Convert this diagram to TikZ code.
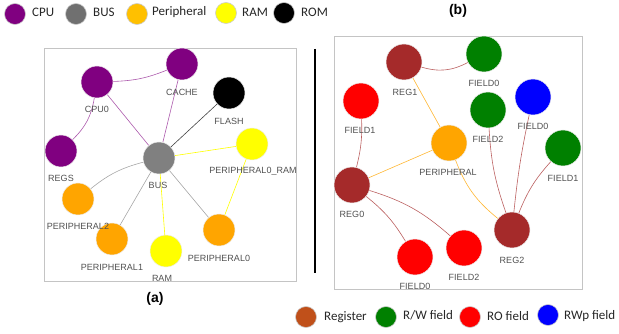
\documentclass[tikz,border=0pt]{standalone}
\usepackage{fontspec}
\setmainfont{Liberation Sans}
\newfontfamily\legfont{Carlito}
\usetikzlibrary{backgrounds}

\definecolor{cpuc}{HTML}{800080}
\definecolor{busc}{HTML}{808080}
\definecolor{perc}{HTML}{FFA500}
\definecolor{ramc}{HTML}{FFFF00}
\definecolor{romc}{HTML}{000000}
\definecolor{regc}{HTML}{A52A2A}
\definecolor{rwc}{HTML}{008000}
\definecolor{roc}{HTML}{FF0000}
\definecolor{rwpc}{HTML}{0000FF}
\definecolor{legbus}{HTML}{707070}
\definecolor{legper}{HTML}{FFC000}
\definecolor{legreg}{HTML}{C0501A}
\definecolor{labc}{HTML}{505050}
\definecolor{legtext}{HTML}{262626}
\definecolor{framec}{HTML}{C4C4C4}

\tikzset{
  gnode/.style={circle, inner sep=0pt, draw=white!85!gray, line width=0.5pt},
  small/.style={gnode, minimum size=32pt},
  big/.style={gnode, minimum size=36pt},
  lab/.style={font=\fontsize{9}{9}\selectfont, text=labc, inner sep=0pt},
  legdot/.style={circle, inner sep=0pt, minimum size=21pt, draw=gray!40, line width=0.6pt},
  legtxt/.style={font=\legfont\fontsize{13}{13}\selectfont, text=legtext, inner sep=0pt, anchor=west},
  tag/.style={font=\bfseries\fontsize{14}{14}\selectfont, inner sep=0pt},
  frame/.style={draw=framec, line width=0.8pt},
  edge/.style={line width=0.6pt},
  ecpu/.style={edge, draw=cpuc!65!white},
  ebus/.style={edge, draw=busc!70!white},
  eram/.style={edge, draw=ramc},
  erom/.style={edge, draw=black!75},
  ereg/.style={edge, draw=regc!75!white},
  eper/.style={edge, draw=perc!80!white},
}

\begin{document}
\begin{tikzpicture}[x=1pt, y=-1pt]
\useasboundingbox (0,0) rectangle (619,334);

% ---------- top legend ----------
\node[legdot, fill=cpuc]   (lcpu) at (15,14) {};
\node[legtxt] (tcpu) at (32,12.5) {CPU};
\node[legdot, fill=legbus] (lbus) at (76,14) {};
\node[legtxt] (tbus) at (93,12.5) {BUS};
\node[legdot, fill=legper] (lper) at (137,14) {};
\node[legtxt] (tper) at (152,12.5) {Peripheral};
\node[legdot, fill=ramc]   (lram) at (226,13) {};
\node[legtxt] (tram) at (242,12.5) {RAM};
\node[legdot, fill=romc]   (lrom) at (284,13) {};
\node[legtxt] (trom) at (301,12.5) {ROM};

\node[tag] (tagb) at (458,11) {(b)};
\node[tag] (taga) at (155,299) {(a)};

% ---------- left graph ----------
\draw[frame] (44,48) rectangle (296,281);

\node[small, fill=cpuc] (cpu0)  at (97,82)  {};
\node[small, fill=cpuc] (cache) at (182,64) {};
\node[small, fill=romc] (flash) at (229,93) {};
\node[small, fill=cpuc] (regs)  at (61,151) {};
\node[small, fill=busc] (bus)   at (159,158) {};
\node[small, fill=ramc] (pram)  at (252,144) {};
\node[small, fill=perc] (per2)  at (78,199) {};
\node[small, fill=perc] (per1)  at (112,239) {};
\node[small, fill=ramc] (ram)   at (166,251) {};
\node[small, fill=perc] (per0)  at (219,230) {};

\node[lab] (lcpu0)  at (97,109)  {CPU0};
\node[lab] (lcache) at (182,92)  {CACHE};
\node[lab] (lflash) at (229,121) {FLASH};
\node[lab] (lregs)  at (61,178)  {REGS};
\node[lab] (lbusn)  at (158,185) {BUS};
\node[lab] (lpram)  at (253,171) {PERIPHERAL0\_RAM};
\node[lab] (lper2)  at (78,226)  {PERIPHERAL2};
\node[lab] (lper1)  at (112,267) {PERIPHERAL1};
\node[lab] (lramn)  at (162,278) {RAM};
\node[lab] (lper0)  at (219,258) {PERIPHERAL0};

\begin{scope}[on background layer]
  \draw[ecpu] (cpu0) to[bend right=10] (cache);
  \draw[ecpu] (cpu0) to[bend left=18] (regs);
  \draw[ecpu] (cpu0) -- (bus);
  \draw[ecpu] (cache) -- (bus);
  \draw[erom] (flash) -- (bus);
  \draw[eram] (bus) -- (pram);
  \draw[eram] (pram) -- (per0);
  \draw[ebus] (per2) to[bend left=12] (bus);
  \draw[ebus] (bus) -- (per1);
  \draw[eram] (bus) -- (ram);
  \draw[ebus] (bus) -- (per0);
\end{scope}

% ---------- separator ----------
\coordinate (septop) at (315,49);
\coordinate (sepbot) at (315,273);
\draw[line width=1.3pt] (septop) -- (sepbot);

% ---------- right graph ----------
\draw[frame] (334,36) rectangle (582,289);

\node[big, fill=regc] (reg1) at (404,62)  {};
\node[big, fill=rwc]  (f0g)  at (484,54)  {};
\node[big, fill=roc]  (f1r)  at (361,101) {};
\node[big, fill=rwc]  (f2g)  at (488,110) {};
\node[big, fill=rwpc] (f0b)  at (533,97)  {};
\node[big, fill=perc] (per)  at (449,143) {};
\node[big, fill=rwc]  (f1g)  at (563,148) {};
\node[big, fill=regc] (reg0) at (352,185) {};
\node[big, fill=roc]  (f0r)  at (415,257) {};
\node[big, fill=roc]  (f2r)  at (464,248) {};
\node[big, fill=regc] (reg2) at (512,230) {};

\node[lab] (lreg1) at (405,92)  {REG1};
\node[lab] (lf0g)  at (484,83)  {FIELD0};
\node[lab] (lf1r)  at (360,130) {FIELD1};
\node[lab] (lf2g)  at (488,139) {FIELD2};
\node[lab] (lf0b)  at (533,126) {FIELD0};
\node[lab] (lper)  at (448,172) {PERIPHERAL};
\node[lab] (lf1g)  at (563,178) {FIELD1};
\node[lab] (lreg0) at (352,214) {REG0};
\node[lab] (lf0r)  at (415,286) {FIELD0};
\node[lab] (lf2r)  at (464,277) {FIELD2};
\node[lab] (lreg2) at (512,260) {REG2};

\begin{scope}[on background layer]
  \draw[ereg] (reg1) to[bend right=22] (f0g);
  \draw[eper] (reg1) -- (per);
  \draw[ereg] (f1r) to[bend left=8] (reg0);
  \draw[eper] (reg0) -- (per);
  \draw[eper] (per) to[bend right=15] (reg2);
  \draw[ereg] (f2g) to[bend right=8] (reg2);
  \draw[ereg] (f0b) to[bend right=3] (reg2);
  \draw[ereg] (f1g) to[bend right=10] (reg2);
  \draw[ereg] (reg0) to[bend left=10] (f0r);
  \draw[ereg] (reg0) to[bend left=12] (f2r);
\end{scope}

% ---------- bottom legend ----------
\node[legdot, fill=legreg] (lreg) at (306,317) {};
\node[legtxt] (treg) at (324,317) {Register};
\node[legdot, fill=rwc]    (lrw)  at (386,317) {};
\node[legtxt] (trw)  at (403,315) {R/W field};
\node[legdot, fill=roc]    (lro)  at (470,317) {};
\node[legtxt] (tro)  at (487,316) {RO field};
\node[legdot, fill=rwpc]   (lrwp) at (548,315) {};
\node[legtxt] (trwp) at (564,316) {RWp field};
\end{tikzpicture}
\end{document}
